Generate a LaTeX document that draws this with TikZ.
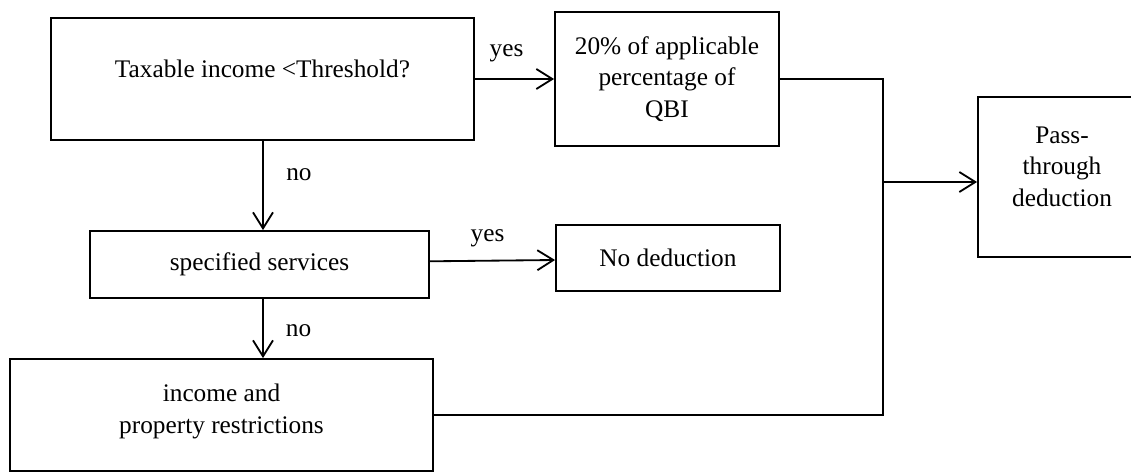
\documentclass[tikz,border=0pt]{standalone}
\usepackage{fontspec}
\setmainfont{Liberation Serif}
\usetikzlibrary{arrows.meta, positioning}

\begin{document}
\begin{tikzpicture}[
    x=0.025cm, y=-0.025cm,
    every node/.style={font=\fontsize{18}{22.5}\selectfont},
    box/.style={rectangle, draw=black, line width=1.3pt, align=center, inner sep=0pt},
    arrow/.style={-{Straight Barb[length=4mm, width=5mm, line width=1.3pt]}, line width=1.3pt},
    link/.style={line width=1.3pt},
    answer/.style={inner sep=0pt}
]
\useasboundingbox (0,0) rectangle (1131,475);

\node (threshold) [box, minimum width=10.575cm, minimum height=3.05cm, text depth=14.5pt] at (262.5,79) {Taxable income <Threshold?};
\node (qbi) [box, minimum width=5.6cm, minimum height=3.35cm] at (667,79) {20\% of applicable\\percentage of\\QBI};
\node (services) [box, minimum width=8.475cm, minimum height=1.675cm] at (259.5,264.5) {specified services};
\node (nodeduction) [box, minimum width=5.6cm, minimum height=1.65cm] at (668,258) {No deduction};
\node (restrictions) [box, minimum width=10.575cm, minimum height=2.8cm, text depth=9pt] at (221.5,415) {income and\\property restrictions};
\node (passthrough) [box, minimum width=4.2cm, minimum height=4cm, text depth=15pt] at (1062,177) {Pass-\\through\\deduction};

\coordinate (join) at (883,182);

\draw [arrow] (threshold.east) -- node[answer, pos=0.4, above=0.4cm] {yes} (qbi.west);
\draw [arrow] (threshold.south -| 263,0) -- node[answer, pos=0.38, right=0.56cm] {no} (services.north -| 263,0);
\draw [arrow] ([yshift=0.08cm]services.east) -- node[answer, pos=0.46, above=0.33cm] {yes} ([yshift=-0.05cm]nodeduction.west);
\draw [arrow] (services.south -| 263,0) -- node[answer, pos=0.54, right=0.55cm] {no} (restrictions.north -| 263,0);
\draw [link] (qbi.east) -| (join);
\draw [link] (restrictions.east) -| (join);
\draw [arrow] (join) -- (join -| passthrough.west);

\end{tikzpicture}
\end{document}
